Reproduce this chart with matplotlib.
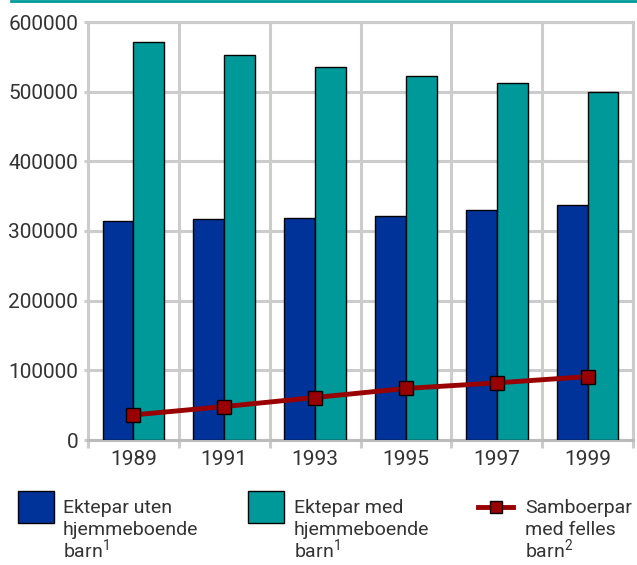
import numpy as np
import matplotlib
matplotlib.use("Agg")
import matplotlib.pyplot as plt
from matplotlib.patches import Rectangle
from matplotlib.lines import Line2D

plt.rcParams['font.family'] = ['Roboto', 'DejaVu Sans']
plt.rcParams['mathtext.fontset'] = 'custom'
plt.rcParams['mathtext.rm'] = 'Roboto'

# ---------------------------------------------------------
# DATA
# ---------------------------------------------------------
years = ["1989", "1991", "1993", "1995", "1997", "1999"]
ektepar_uten = [314000, 317000, 318000, 321000, 330000, 337000]
ektepar_med = [571000, 553000, 536000, 522000, 513000, 500000]
samboerpar = [36000, 48000, 61000, 74000, 82000, 91000]

labels = [
    ["Ektepar uten", "hjemmeboende", "barn$^{\\mathregular{1}}$"],
    ["Ektepar med", "hjemmeboende", "barn$^{\\mathregular{1}}$"],
    ["Samboerpar", "med felles", "barn$^{\\mathregular{2}}$"],
]

# ---------------------------------------------------------
# STYLE
# ---------------------------------------------------------
BLUE = "#003399"
TEAL = "#009999"
RED = "#990000"
GRID = "#cccccc"
TEXT = "#333333"
FS = 15
FS_LEG = 14

W, H = 637, 565
fig = plt.figure(figsize=(W / 100, H / 100), dpi=100)
ax = fig.add_axes([88 / W, 1 - 440 / H, (633 - 88) / W, (440 - 22) / H])

x = np.arange(len(years))
bw = 0.34

ax.bar(x - bw / 2, ektepar_uten, bw, color=BLUE, edgecolor="black", linewidth=1, zorder=3)
ax.bar(x + bw / 2, ektepar_med, bw, color=TEAL, edgecolor="black", linewidth=1, zorder=3)
ax.plot(x, samboerpar, color=RED, linewidth=3.5, marker="s", markersize=10,
        markerfacecolor=RED, markeredgecolor="black", markeredgewidth=1, zorder=4)

ax.set_xlim(-0.5, len(years) - 0.5)
ax.set_ylim(0, 600000)
ax.set_yticks(np.arange(0, 600001, 100000))
ax.set_xticks(x)
ax.set_xticklabels(years)
ax.set_xticks(np.arange(-0.5, len(years)), minor=True)

ax.grid(True, axis="y", which="major", color=GRID, linewidth=2.2, zorder=0)
ax.grid(True, axis="x", which="minor", color=GRID, linewidth=2.2, zorder=0)
ax.tick_params(axis="x", which="major", length=0, pad=7, labelsize=FS, labelcolor=TEXT)
ax.tick_params(axis="x", which="minor", length=6, width=2.2, color=GRID)
ax.tick_params(axis="y", length=3, width=2.2, color=GRID, pad=4, labelsize=FS, labelcolor=TEXT)

for s in ax.spines.values():
    s.set_color(GRID)
    s.set_linewidth(2.2)
ax.spines["bottom"].set_color("#bbbbbb")

# top rule
fig.add_artist(Line2D([11 / W, 1], [1 - 1 / H, 1 - 1 / H], color=TEAL, linewidth=2,
                      transform=fig.transFigure))

# ---------------------------------------------------------
# LEGEND (manual)
# ---------------------------------------------------------
def fx(px):
    return px / W


def fy(py):
    return 1 - py / H


fig.add_artist(Rectangle((fx(18), fy(523)), 36 / W, 32 / H, facecolor=BLUE,
                         edgecolor="black", linewidth=1, transform=fig.transFigure))
fig.add_artist(Rectangle((fx(248), fy(523)), 36 / W, 32 / H, facecolor=TEAL,
                         edgecolor="black", linewidth=1, transform=fig.transFigure))
fig.add_artist(Line2D([fx(478), fx(513)], [fy(507), fy(507)], color=RED, linewidth=3.5,
                      transform=fig.transFigure))
fig.add_artist(Line2D([fx(495.5)], [fy(507)], color=RED, linestyle="none",
                      marker="s", markersize=9, markerfacecolor=RED,
                      markeredgecolor="black", markeredgewidth=1, transform=fig.transFigure))

baselines = [513, 535, 558]
for xpos, lines in zip([63, 294, 525], labels):
    for yb, line in zip(baselines, lines):
        fig.text(fx(xpos), fy(yb), line, fontsize=FS_LEG, color=TEXT,
                 va="baseline", ha="left")

fig.savefig("out.png", dpi=100)
